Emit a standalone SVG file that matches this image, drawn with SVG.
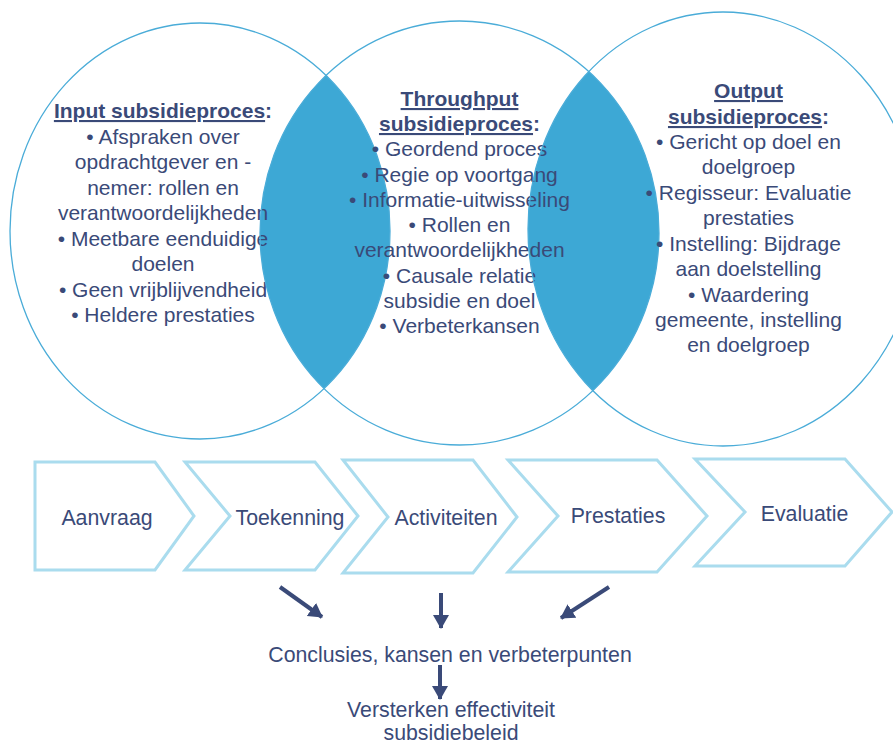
<svg xmlns="http://www.w3.org/2000/svg" width="893" height="744" viewBox="0 0 893 744">
<style>
.t{font-family:"Liberation Sans",Arial,sans-serif;font-size:21px;fill:#3A4A78;text-anchor:middle}
.b{font-weight:bold}
.u{text-decoration:underline}
.ring{fill:none;stroke:#4AACD8;stroke-width:1.3}
.lens{fill:#3DA8D5}
.chev{fill:#fff;stroke:#AADCEE;stroke-width:3}
.lbl{font-family:"Liberation Sans",Arial,sans-serif;font-size:21.3px;fill:#3A4A78;text-anchor:middle}
.arr{stroke:#3A4A78;stroke-width:4;fill:none;marker-end:url(#ah)}
</style>
<defs>
<clipPath id="c1"><ellipse cx="200" cy="231" rx="190" ry="208"/></clipPath>
<clipPath id="c3"><ellipse cx="723" cy="229" rx="195" ry="217"/></clipPath>
<marker id="ah" markerUnits="userSpaceOnUse" markerWidth="18" markerHeight="18" refX="13" refY="8" orient="auto">
<path d="M0,0 L14,8 L0,16 Z" fill="#3A4A78"/>
</marker>
</defs>
<rect width="893" height="744" fill="#fff"/>
<g id="lenses">
<ellipse class="lens" cx="459.5" cy="233" rx="199.5" ry="212" clip-path="url(#c1)"/>
<ellipse class="lens" cx="459.5" cy="233" rx="199.5" ry="212" clip-path="url(#c3)"/>
</g>
<g id="input">
<ellipse class="ring" cx="200" cy="231" rx="190" ry="208"/>
<text class="t" x="163" y="118"><tspan class="b u">Input subsidieproces</tspan><tspan class="b">:</tspan></text>
<text class="t" x="163" y="144">• Afspraken over</text>
<text class="t" x="163" y="169">opdrachtgever en -</text>
<text class="t" x="163" y="195">nemer: rollen en</text>
<text class="t" x="163" y="220">verantwoordelijkheden</text>
<text class="t" x="163" y="246">• Meetbare eenduidige</text>
<text class="t" x="163" y="271">doelen</text>
<text class="t" x="163" y="297">• Geen vrijblijvendheid</text>
<text class="t" x="163" y="322">• Heldere prestaties</text>
</g>
<g id="throughput">
<ellipse class="ring" cx="459.5" cy="233" rx="199.5" ry="212"/>
<text class="t b u" x="459.5" y="106">Throughput</text>
<text class="t" x="459.5" y="131"><tspan class="b u">subsidieproces</tspan><tspan class="b">:</tspan></text>
<text class="t" x="459.5" y="156">• Geordend proces</text>
<text class="t" x="459.5" y="182">• Regie op voortgang</text>
<text class="t" x="459.5" y="207">• Informatie-uitwisseling</text>
<text class="t" x="459.5" y="232">• Rollen en</text>
<text class="t" x="459.5" y="257">verantwoordelijkheden</text>
<text class="t" x="459.5" y="283">• Causale relatie</text>
<text class="t" x="459.5" y="308">subsidie en doel</text>
<text class="t" x="459.5" y="333">• Verbeterkansen</text>
</g>
<g id="output">
<ellipse class="ring" cx="723" cy="229" rx="195" ry="217"/>
<text class="t b u" x="748.5" y="98">Output</text>
<text class="t" x="748.5" y="124"><tspan class="b u">subsidieproces</tspan><tspan class="b">:</tspan></text>
<text class="t" x="748.5" y="149">• Gericht op doel en</text>
<text class="t" x="748.5" y="174">doelgroep</text>
<text class="t" x="748.5" y="200">• Regisseur: Evaluatie</text>
<text class="t" x="748.5" y="225">prestaties</text>
<text class="t" x="748.5" y="251">• Instelling: Bijdrage</text>
<text class="t" x="748.5" y="276">aan doelstelling</text>
<text class="t" x="748.5" y="302">• Waardering</text>
<text class="t" x="748.5" y="327">gemeente, instelling</text>
<text class="t" x="748.5" y="352">en doelgroep</text>
</g>
<g id="aanvraag">
<polygon class="chev" points="35,462 155,462 194,516 155,570 35,570"/>
<text class="lbl" x="107" y="525">Aanvraag</text>
</g>
<g id="toekenning">
<polygon class="chev" points="185,462 315,462 358,516 315,570 185,570 230,516"/>
<text class="lbl" x="290" y="525">Toekenning</text>
</g>
<g id="activiteiten">
<polygon class="chev" points="343,460 473,460 517,517 473,573 343,573 388,517"/>
<text class="lbl" x="446" y="525">Activiteiten</text>
</g>
<g id="prestaties">
<polygon class="chev" points="508,460 657,460 707,516 657,572 508,572 558,516"/>
<text class="lbl" x="618" y="523">Prestaties</text>
</g>
<g id="evaluatie">
<polygon class="chev" points="695,459 845,459 892,512 845,566 695,566 745,512"/>
<text class="lbl" x="804.5" y="521">Evaluatie</text>
</g>
<g id="conclusies">
<text class="lbl" x="450" y="662">Conclusies, kansen en verbeterpunten</text>
</g>
<g id="versterken">
<text class="lbl" x="451" y="717">Versterken effectiviteit</text>
<text class="lbl" x="451" y="740">subsidiebeleid</text>
</g>
<g id="connectors">
<line class="arr" x1="280" y1="587" x2="322" y2="617"/>
<line class="arr" x1="441" y1="593" x2="441" y2="628"/>
<line class="arr" x1="609" y1="587" x2="561" y2="618"/>
<line class="arr" x1="440" y1="665" x2="440" y2="699"/>
</g>
</svg>
